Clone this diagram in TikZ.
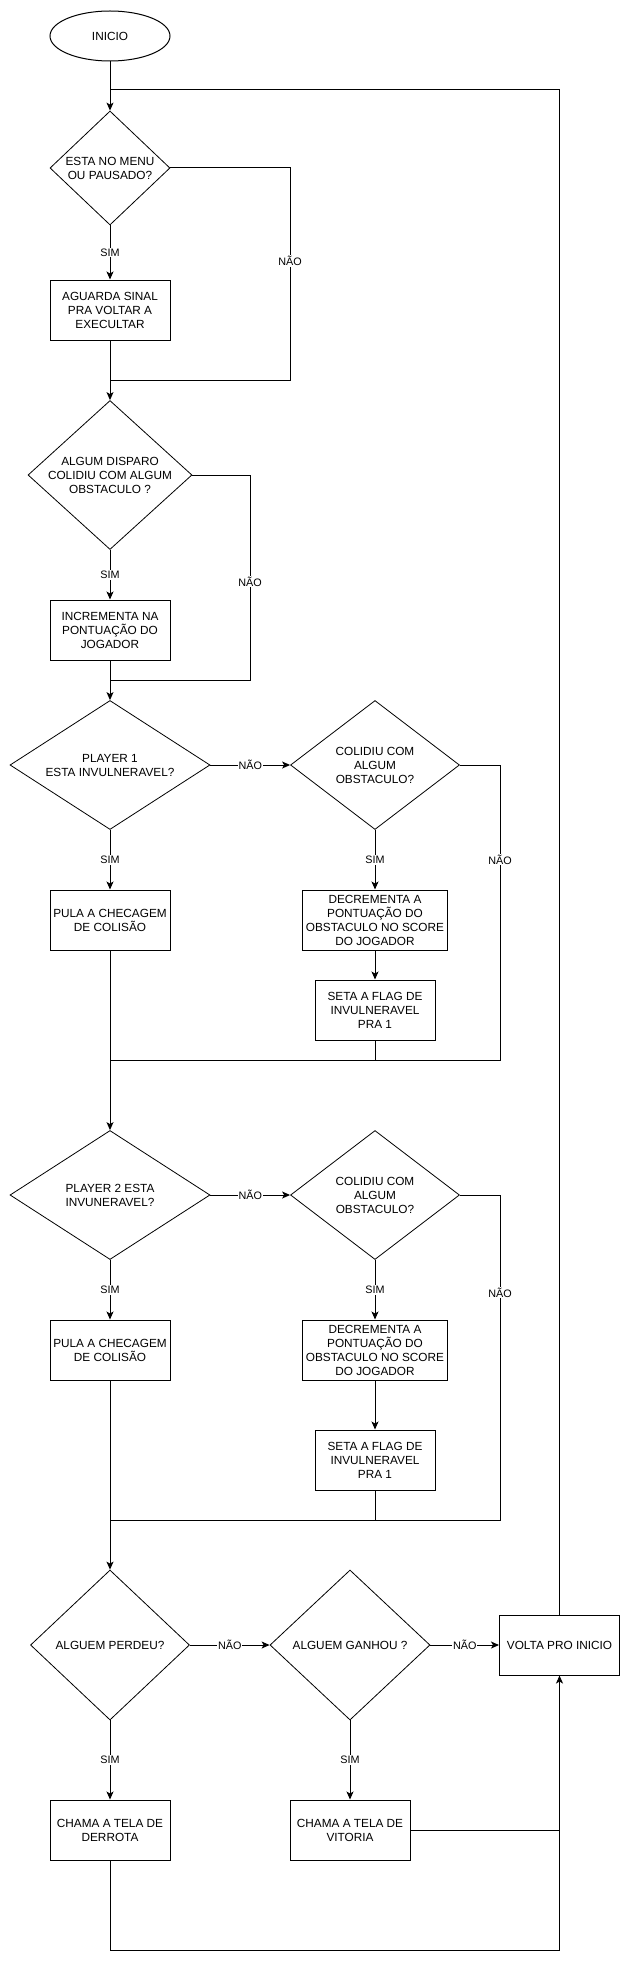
\documentclass[tikz,border=0pt]{standalone}
\usepackage{fontspec}
\setmainfont{Liberation Sans}
\usetikzlibrary{arrows.meta, shapes.geometric}
\tikzset{
  flowline/.style  = {line width=1pt, black},
  flowarrow/.style = {flowline, -{Stealth[length=8pt, width=7pt, inset=2pt]}},
  startnode/.style = {ellipse, draw, line width=1pt, minimum width=120pt,
                      minimum height=50pt, inner sep=0pt,
                      font=\fontsize{11.8}{14}\selectfont},
  procbox/.style   = {rectangle, draw, line width=1pt, minimum width=120pt,
                      minimum height=60pt, inner sep=0pt, align=center,
                      font=\fontsize{11.8}{14}\selectfont},
  decision/.style  = {diamond, draw, line width=0.8pt, inner sep=-3pt,
                      align=center, font=\fontsize{11.8}{14}\selectfont},
  edgelbl/.style   = {fill=white, inner sep=1pt, font=\fontsize{10.8}{13}\selectfont},
}
\begin{document}
\begin{tikzpicture}[x=1pt,y=-1pt]
  \useasboundingbox (0,0) rectangle (631,1969);
  % inicio / menu
  \node[startnode] (inicio) at (110,36) {INICIO};
  \node[decision, aspect=1.05, minimum width=120pt, minimum height=114pt] (menu) at (110,168) {ESTA NO MENU\\OU PAUSADO?};
  \node[procbox] (aguarda) at (110,310) {AGUARDA SINAL\\PRA VOLTAR A\\EXECULTAR};
  \coordinate (loopL) at (110,90);
  \coordinate (loopR) at (559.5,90);
  \coordinate (menuB) at (290,380);
  \coordinate (menuJ) at (110,380);
  \draw[flowarrow] (inicio) -- (menu);
  \draw[flowarrow] (menu) -- node[edgelbl] {SIM} (aguarda);
  \draw[flowline] (menu.east) -| node[edgelbl, pos=0.72] {NÃO} (menuB) -- (menuJ);
  % disparo
  \node[decision, aspect=1.1, minimum width=164pt, minimum height=149pt] (disparo) at (110,475) {ALGUM DISPARO\\COLIDIU COM ALGUM\\OBSTACULO ?};
  \node[procbox] (incrementa) at (110,630) {INCREMENTA NA\\PONTUAÇÃO DO\\JOGADOR};
  \coordinate (dispB) at (250,680);
  \coordinate (dispJ) at (110,680);
  \draw[flowarrow] (aguarda) -- (disparo);
  \draw[flowarrow] (disparo) -- node[edgelbl] {SIM} (incrementa);
  \draw[flowline] (disparo.east) -| node[edgelbl, pos=0.76] {NÃO} (dispB) -- (dispJ);
  % player 1
  \node[decision, aspect=1.55, minimum width=200pt, minimum height=129pt] (p1inv) at (110,765) {PLAYER 1\\ESTA INVULNERAVEL?};
  \node[decision, aspect=1.31, minimum width=169pt, minimum height=129pt] (p1col) at (375,765) {COLIDIU COM\\ALGUM\\OBSTACULO?};
  \node[procbox] (p1pula) at (110,920) {PULA A CHECAGEM\\DE COLISÃO};
  \node[procbox, minimum width=145pt] (p1decr) at (375,920) {DECREMENTA A\\PONTUAÇÃO DO\\OBSTACULO NO SCORE\\DO JOGADOR};
  \node[procbox] (p1flag) at (375,1010) {SETA A FLAG DE\\INVULNERAVEL\\PRA 1};
  \coordinate (p1B) at (500,1060);
  \coordinate (p1J) at (110,1060);
  \coordinate (p1F) at (375,1060);
  \draw[flowarrow] (incrementa) -- (p1inv);
  \draw[flowarrow] (p1inv) -- node[edgelbl] {NÃO} (p1col);
  \draw[flowarrow] (p1inv) -- node[edgelbl] {SIM} (p1pula);
  \draw[flowarrow] (p1col) -- node[edgelbl] {SIM} (p1decr);
  \draw[flowarrow] (p1decr) -- (p1flag);
  \draw[flowline] (p1col.east) -| node[edgelbl, pos=0.66] {NÃO} (p1B) -- (p1J);
  \draw[flowline] (p1flag) -- (p1F);
  % player 2
  \node[decision, aspect=1.55, minimum width=200pt, minimum height=129pt] (p2inv) at (110,1195) {PLAYER 2 ESTA\\INVUNERAVEL?};
  \node[decision, aspect=1.31, minimum width=169pt, minimum height=129pt] (p2col) at (375,1195) {COLIDIU COM\\ALGUM\\OBSTACULO?};
  \node[procbox] (p2pula) at (110,1350) {PULA A CHECAGEM\\DE COLISÃO};
  \node[procbox, minimum width=145pt] (p2decr) at (375,1350) {DECREMENTA A\\PONTUAÇÃO DO\\OBSTACULO NO SCORE\\DO JOGADOR};
  \node[procbox] (p2flag) at (375,1460) {SETA A FLAG DE\\INVULNERAVEL\\PRA 1};
  \coordinate (p2B) at (500,1520);
  \coordinate (p2J) at (110,1520);
  \coordinate (p2F) at (375,1520);
  \draw[flowarrow] (p1pula) -- (p2inv);
  \draw[flowarrow] (p2inv) -- node[edgelbl] {NÃO} (p2col);
  \draw[flowarrow] (p2inv) -- node[edgelbl] {SIM} (p2pula);
  \draw[flowarrow] (p2col) -- node[edgelbl] {SIM} (p2decr);
  \draw[flowarrow] (p2decr) -- (p2flag);
  \draw[flowline] (p2col.east) -| node[edgelbl, pos=0.65] {NÃO} (p2B) -- (p2J);
  \draw[flowline] (p2flag) -- (p2F);
  % fim de jogo
  \node[decision, aspect=1.06, minimum width=159pt, minimum height=150pt] (perdeu) at (110,1645) {ALGUEM PERDEU?};
  \node[decision, aspect=1.07, minimum width=160pt, minimum height=150pt] (ganhou) at (350,1645) {ALGUEM GANHOU ?};
  \node[procbox] (volta) at (559.5,1645) {VOLTA PRO INICIO};
  \node[procbox] (derrota) at (110,1830) {CHAMA A TELA DE\\DERROTA};
  \node[procbox] (vitoria) at (350,1830) {CHAMA A TELA DE\\VITORIA};
  \coordinate (fimL) at (110,1950);
  \coordinate (fimR) at (559.5,1950);
  \coordinate (vitR) at (559.5,1830);
  \draw[flowarrow] (p2pula) -- (perdeu);
  \draw[flowarrow] (perdeu) -- node[edgelbl] {NÃO} (ganhou);
  \draw[flowarrow] (ganhou) -- node[edgelbl] {NÃO} (volta);
  \draw[flowarrow] (perdeu) -- node[edgelbl] {SIM} (derrota);
  \draw[flowarrow] (ganhou) -- node[edgelbl] {SIM} (vitoria);
  \draw[flowarrow] (vitoria) -- (vitR) -- (volta);
  \draw[flowline] (derrota) -- (fimL) -- (fimR) -- (vitR);
  \draw[flowline] (volta) -- (loopR) -- (loopL);
\end{tikzpicture}
\end{document}
